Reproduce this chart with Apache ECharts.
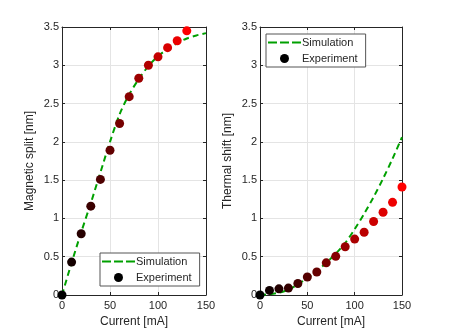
<!DOCTYPE html>
<html>
<head>
<meta charset="utf-8">
<script src="https://cdn.jsdelivr.net/npm/echarts@6/dist/echarts.min.js"></script>
<style>
  html, body { margin: 0; padding: 0; background: #fff; }
  #chart { width: 449px; height: 336px; }
</style>
</head>
<body>
<div id="chart"></div>
<script>
// 数据：电流 (mA)
const currentSim = [0, 10, 20, 30, 40, 50, 60, 70, 80, 90, 100, 110, 120, 130, 140, 150]
const simSplit = [0, 0.42, 0.82, 1.2, 1.6, 2.0, 2.36, 2.62, 2.82, 2.99, 3.12, 3.21, 3.29, 3.35, 3.39, 3.42]
const simShift = [0, 0.01, 0.03, 0.07, 0.14, 0.22, 0.31, 0.42, 0.54, 0.68, 0.86, 1.06, 1.28, 1.52, 1.78, 2.06]

const currentSplitExp = [0, 10, 20, 30, 40, 50, 60, 70, 80, 90, 100, 110, 120, 130]
const expSplit = [0, 0.43, 0.8, 1.16, 1.51, 1.89, 2.24, 2.59, 2.83, 3.0, 3.11, 3.23, 3.32, 3.45]

const currentShiftExp = [0, 10, 20, 30, 40, 50, 60, 70, 80, 90, 100, 110, 120, 130, 140, 150]
const expShift = [0, 0.06, 0.08, 0.09, 0.15, 0.235, 0.3, 0.42, 0.505, 0.63, 0.73, 0.82, 0.96, 1.08, 1.21, 1.41]

const xTicks = [0, 50, 100, 150]
const yNames = ['Magnetic split [nm]', 'Thermal shift [nm]']
const legendNames = ['Simulation', 'Experiment']

const textColor = '#262626'
const green = '#00a000'
const font = 'Liberation Sans, Arial, Helvetica, sans-serif'
// 图例中的虚线图标
const dashIcon = 'path://M0,0H9V2H0Z M12,0H21V2H12Z M24,0H33V2H24Z'

const chart = echarts.init(document.getElementById('chart'))

const pairs = (xs, ys) => xs.map((x, i) => [x, ys[i]])

// 黑 -> 红 渐变
const redRamp = (n) => (p) => {
  const t = n > 1 ? p.dataIndex / (n - 1) : 0
  return 'rgb(' + Math.round(255 * t) + ',0,0)'
}

const grids = [
  { left: 62, right: 243, top: 27, bottom: 41 },
  { left: 260, right: 47, top: 27, bottom: 41 },
]

const axisLine = { show: true, onZero: false, lineStyle: { color: textColor, width: 1 } }
const axisTick = { inside: true, length: 3, lineStyle: { color: textColor } }
const splitLine = { show: true, lineStyle: { color: '#e4e4e4', width: 1 } }

const xAxes = []
const yAxes = []
grids.forEach((g, gi) => {
  xAxes.push({
    type: 'value', gridIndex: gi, min: 0, max: 150, interval: 50,
    name: 'Current [mA]', nameLocation: 'middle', nameGap: 21,
    nameTextStyle: { color: textColor, fontSize: 12, fontFamily: font },
    axisLine, axisTick, splitLine,
    axisLabel: { color: textColor, fontSize: 11, fontFamily: font, margin: 5,
      formatter: (v) => (xTicks.includes(v) ? String(v) : '') },
  })
  xAxes.push({
    type: 'value', gridIndex: gi, position: 'top', min: 0, max: 150, interval: 50,
    axisLine, axisTick, axisLabel: { show: false }, splitLine: { show: false },
  })
  yAxes.push({
    type: 'value', gridIndex: gi, min: 0, max: 3.5, interval: 0.5,
    name: yNames[gi], nameLocation: 'middle', nameGap: 26,
    nameTextStyle: { color: textColor, fontSize: 12, fontFamily: font },
    axisLine, axisTick, splitLine,
    axisLabel: { color: textColor, fontSize: 11, fontFamily: font, margin: 3 },
  })
  yAxes.push({
    type: 'value', gridIndex: gi, position: 'right', min: 0, max: 3.5, interval: 0.5,
    axisLine, axisTick, axisLabel: { show: false }, splitLine: { show: false },
  })
})

const lineSeries = (gi, ys) => ({
  name: 'Simulation', type: 'line', xAxisIndex: gi * 2, yAxisIndex: gi * 2,
  data: pairs(currentSim, ys), smooth: 0.3, symbol: 'none', showSymbol: false,
  lineStyle: { color: green, width: 2, type: [6, 4] },
  itemStyle: { color: green },
  z: 2,
})

const scatterSeries = (gi, xs, ys) => ({
  name: 'Experiment', type: 'scatter', xAxisIndex: gi * 2, yAxisIndex: gi * 2,
  data: pairs(xs, ys), symbolSize: 9,
  itemStyle: { color: redRamp(xs.length), opacity: 1 },
  z: 5,
})

const legendBox = (pos) => Object.assign({
  orient: 'vertical', itemWidth: 33, itemHeight: 9, itemGap: 5,
  padding: [3, 8, 3, 2],
  backgroundColor: '#fff', borderColor: '#555', borderWidth: 1, borderRadius: 0,
  textStyle: { color: textColor, fontSize: 11, fontFamily: font, padding: [0, 0, 0, -4] },
  data: [
    { name: legendNames[0], icon: dashIcon, itemStyle: { color: green, borderWidth: 0 } },
    { name: legendNames[1], icon: 'circle', itemStyle: { color: '#000' } },
  ],
}, pos)

const option = {
  animation: false,
  grid: grids,
  xAxis: xAxes,
  yAxis: yAxes,
  legend: [
    legendBox({ left: 100, top: 253 }),
    legendBox({ left: 266, top: 34 }),
  ],
  series: [
    lineSeries(0, simSplit),
    scatterSeries(0, currentSplitExp, expSplit),
    lineSeries(1, simShift),
    scatterSeries(1, currentShiftExp, expShift),
  ],
}

chart.setOption(option)
</script>
</body>
</html>
